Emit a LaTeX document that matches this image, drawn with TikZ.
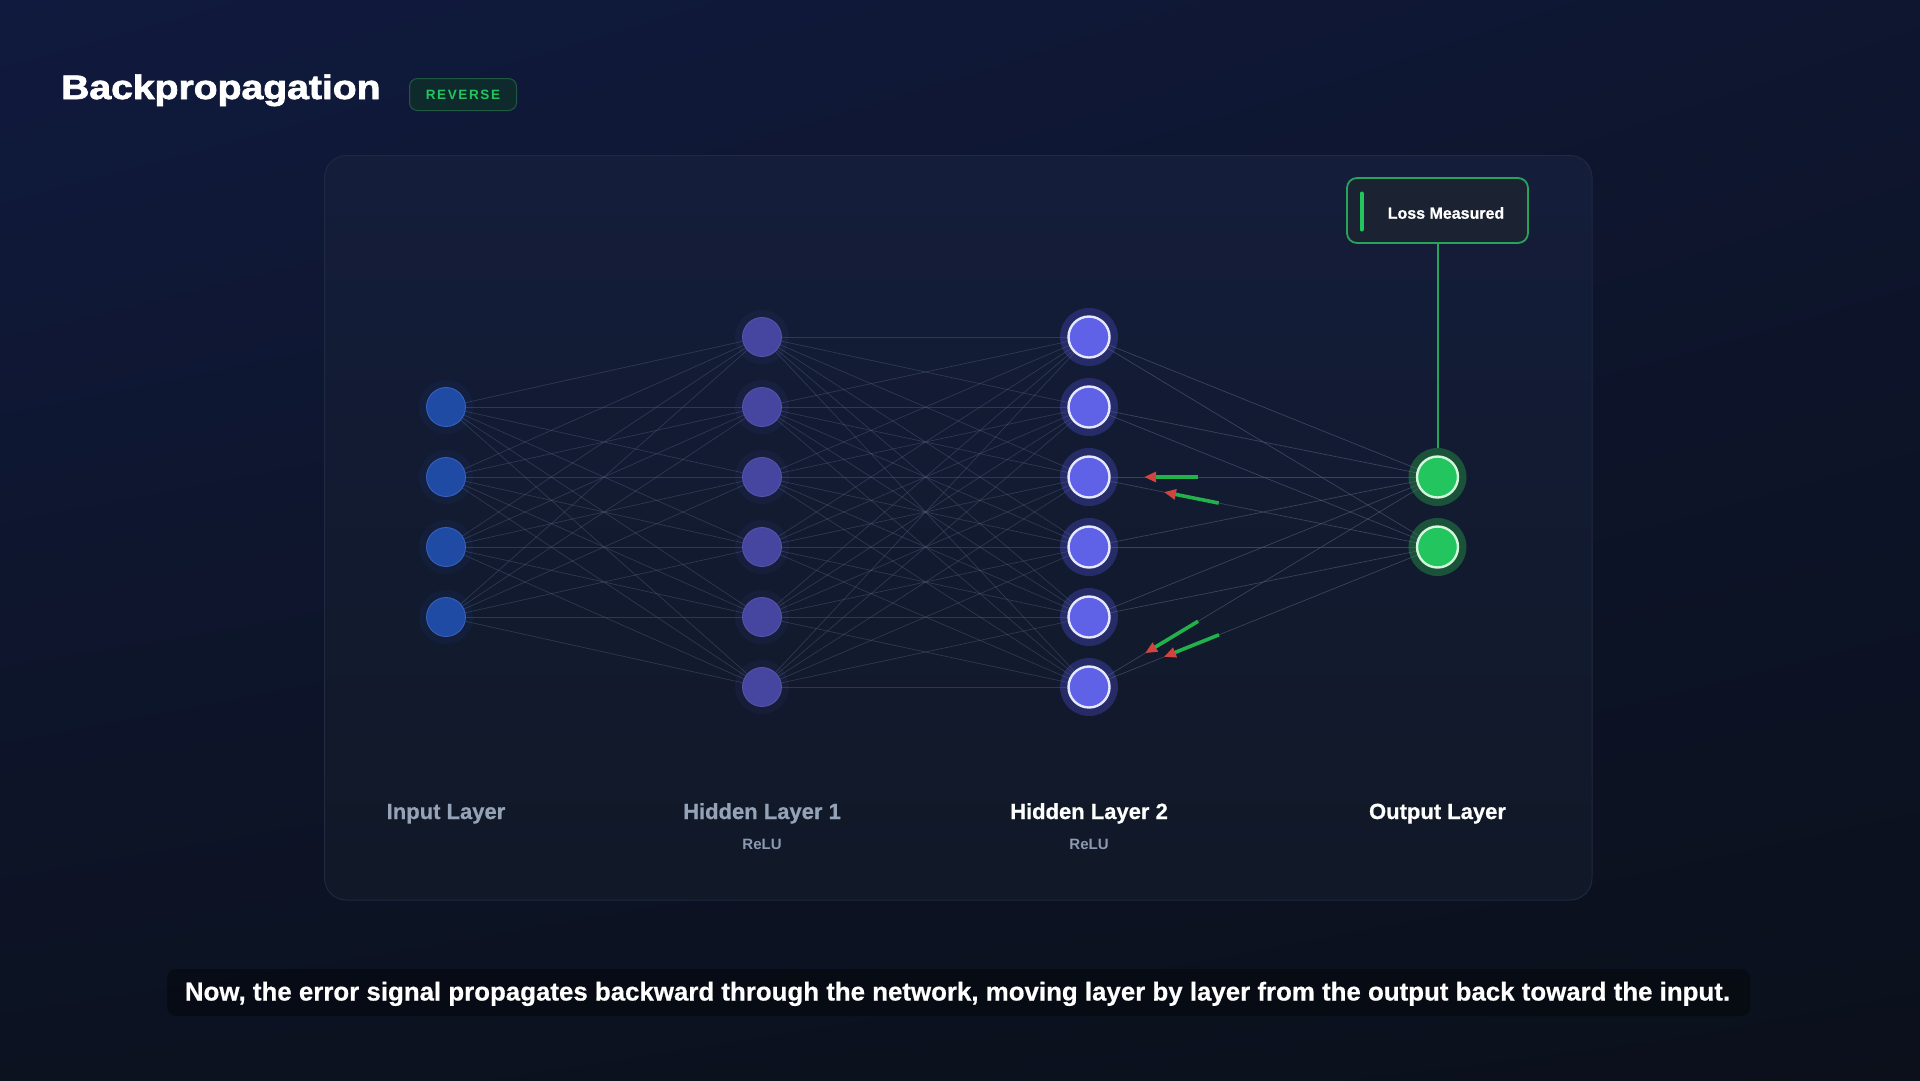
\documentclass[tikz,border=0pt]{standalone}
\usepackage{fontspec}
\setmainfont{Liberation Sans}
\usetikzlibrary{calc,arrows.meta,shadings}
\definecolor{bgUL}{HTML}{101A3E}
\definecolor{bgUR}{HTML}{0E1630}
\definecolor{bgLL}{HTML}{0C1220}
\definecolor{bgLR}{HTML}{0B101B}
\definecolor{panT}{HTML}{141D3A}
\definecolor{panB}{HTML}{111827}
\definecolor{panBorder}{HTML}{1F293F}
\definecolor{edgec}{HTML}{5A6582}
\definecolor{inc}{HTML}{1F4BA5}
\definecolor{incb}{HTML}{3A64C0}
\definecolor{h1c}{HTML}{4646A0}
\definecolor{h1cb}{HTML}{5656B0}
\definecolor{h2c}{HTML}{5F62E6}
\definecolor{h2cb}{HTML}{E6E8FF}
\definecolor{h2halo}{HTML}{2F3480}
\definecolor{oc}{HTML}{22C55E}
\definecolor{ocb}{HTML}{D4F7DC}
\definecolor{ohalo}{HTML}{1D5C3C}
\definecolor{lossf}{HTML}{1B2333}
\definecolor{lossb}{HTML}{27A35A}
\definecolor{gbar}{HTML}{22C55E}
\definecolor{badgef}{HTML}{0F2A2C}
\definecolor{badgeb}{HTML}{1F5A40}
\definecolor{labgrey}{HTML}{94A3B8}
\definecolor{relugrey}{HTML}{8B9AB0}
\definecolor{redtip}{HTML}{D0453F}
\definecolor{sigc}{HTML}{22B24C}
\begin{document}
\begin{tikzpicture}[x=1pt,y=-1pt,
  edge/.style={draw=edgec, line width=0.7pt, opacity=0.4},
  softhalo/.style={circle, minimum size=54pt, inner sep=0pt, fill=#1, opacity=0.1},
  inode/.style={circle, minimum size=39pt, inner sep=0pt, fill=inc, draw=incb, line width=0.8pt},
  honenode/.style={circle, minimum size=39pt, inner sep=0pt, fill=h1c, draw=h1cb, line width=0.8pt},
  htwonode/.style={circle, minimum size=41pt, inner sep=0pt, fill=h2c, draw=h2cb, line width=2.4pt},
  htwohalo/.style={circle, minimum size=58pt, inner sep=0pt, fill=h2halo, fill opacity=0.7},
  outnode/.style={circle, minimum size=41pt, inner sep=0pt, fill=oc, draw=ocb, line width=2.4pt},
  outhalo/.style={circle, minimum size=58pt, inner sep=0pt, fill=ohalo, fill opacity=0.85},
  layerlab/.style={anchor=base, inner sep=0pt, font=\bfseries\fontsize{22}{26}\selectfont\addfontfeature{FakeBold=0.6}},
  relulab/.style={anchor=base, inner sep=0pt, text=relugrey, font=\bfseries\fontsize{15}{18}\selectfont},
  signal/.style={draw=sigc, line width=3.6pt, -{Triangle[color=redtip, length=12pt, width=10pt]}}
]
\useasboundingbox (0,0) rectangle (1920,1080);
% background
\shade[upper left=bgUL, upper right=bgUR, lower left=bgLL, lower right=bgLR] (0,0) rectangle (1920,1080);
% panel
\shade[top color=panT, bottom color=panB, rounded corners=22pt] (324.5,155.5) rectangle (1592,900);
\draw[panBorder, line width=1pt, rounded corners=22pt] (324.5,155.5) rectangle (1592,900);

% title and badge
\node[anchor=base west, inner sep=0pt, text=white, font=\bfseries\fontsize{34}{40}\selectfont\addfontfeature{FakeBold=2}] (title) at (61,99) {\scalebox{1.15}[1]{Backpropagation}};
\node[draw=badgeb, fill=badgef, line width=1pt, rounded corners=8pt, minimum width=107pt, minimum height=32pt, inner sep=0pt] (badge) at (463,94.5) {};
\node[inner sep=0pt, text=gbar, font=\bfseries\fontsize{13.5}{16}\selectfont] (badgetxt) at (badge.center) {\addfontfeature{LetterSpace=12}REVERSE};

% nodes
\foreach \k/\yy in {1/407,2/477,3/547,4/617}{
  \node[softhalo=inc] (ih\k) at (446,\yy) {};
  \node[inode] (i\k) at (446,\yy) {};
}
\foreach \k/\yy in {1/337,2/407,3/477,4/547,5/617,6/687}{
  \node[softhalo=h1c] (ah\k) at (762,\yy) {};
  \node[honenode] (a\k) at (762,\yy) {};
}
\foreach \k/\yy in {1/337,2/407,3/477,4/547,5/617,6/687}{
  \node[htwohalo] (bh\k) at (1089,\yy) {};
}
\node[outhalo] (oh1) at (1437.5,477) {};
\node[outhalo] (oh2) at (1437.5,547) {};
\foreach \k/\yy in {1/337,2/407,3/477,4/547,5/617,6/687}{
  \node[htwonode] (b\k) at (1089,\yy) {};
}
\node[outnode] (o1) at (1437.5,477) {};
\node[outnode] (o2) at (1437.5,547) {};

% edges
\foreach \p in {1,...,4}{\foreach \q in {1,...,6}{\draw[edge] (i\p) -- (a\q);}}
\foreach \p in {1,...,6}{\foreach \q in {1,...,6}{\draw[edge] (a\p) -- (b\q);}}
\foreach \p in {1,...,6}{\foreach \q in {1,2}{\draw[edge, opacity=0.55] (b\p) -- (o\q);}}

% backward error signals
\draw[signal] ($(b3.center)!0.313!(o1.center)$) -- ($(b3.center)!0.158!(o1.center)$);
\draw[signal] ($(b3.center)!0.372!(o2.center)$) -- ($(b3.center)!0.215!(o2.center)$);
\draw[signal] ($(b6.center)!0.313!(o1.center)$) -- ($(b6.center)!0.161!(o1.center)$);
\draw[signal] ($(b6.center)!0.373!(o2.center)$) -- ($(b6.center)!0.215!(o2.center)$);

% loss box
\node[draw=lossb, fill=lossf, line width=1.8pt, rounded corners=10pt, minimum width=181pt, minimum height=65pt, inner sep=0pt] (loss) at (1437.5,210.5) {};
\draw[gbar, line width=4pt, line cap=round] ($(loss.west)+(15.5,-17)$) -- ($(loss.west)+(15.5,19)$);
\node[inner sep=0pt, text=white, font=\bfseries\fontsize{16}{19}\selectfont\addfontfeature{FakeBold=0.8}] (losstxt) at (1446,213) {Loss Measured};
\draw[lossb, line width=2pt] (loss.south) -- (oh1.north);

% layer labels
\node[layerlab, text=labgrey] (lin) at (446,819) {Input Layer};
\node[layerlab, text=labgrey] (lh1) at (762,819) {Hidden Layer 1};
\node[relulab] (rh1) at (762,849) {ReLU};
\node[layerlab, text=white] (lh2) at (1089,819) {Hidden Layer 2};
\node[relulab] (rh2) at (1089,849) {ReLU};
\node[layerlab, text=white] (lout) at (1437.5,819) {Output Layer};

% caption
\node[fill=black, fill opacity=0.35, rounded corners=9pt, minimum width=1583pt, minimum height=47pt, inner sep=0pt] (capbox) at (958.5,992.5) {};
\node[anchor=base, inner sep=0pt, text=white] (captxt) at (957.5,1000.5) {\resizebox{1545pt}{!}{\bfseries\fontsize{24}{28}\selectfont\addfontfeature{FakeBold=0.6}Now, the error signal propagates backward through the network, moving layer by layer from the output back toward the input.}};
\end{tikzpicture}
\end{document}
